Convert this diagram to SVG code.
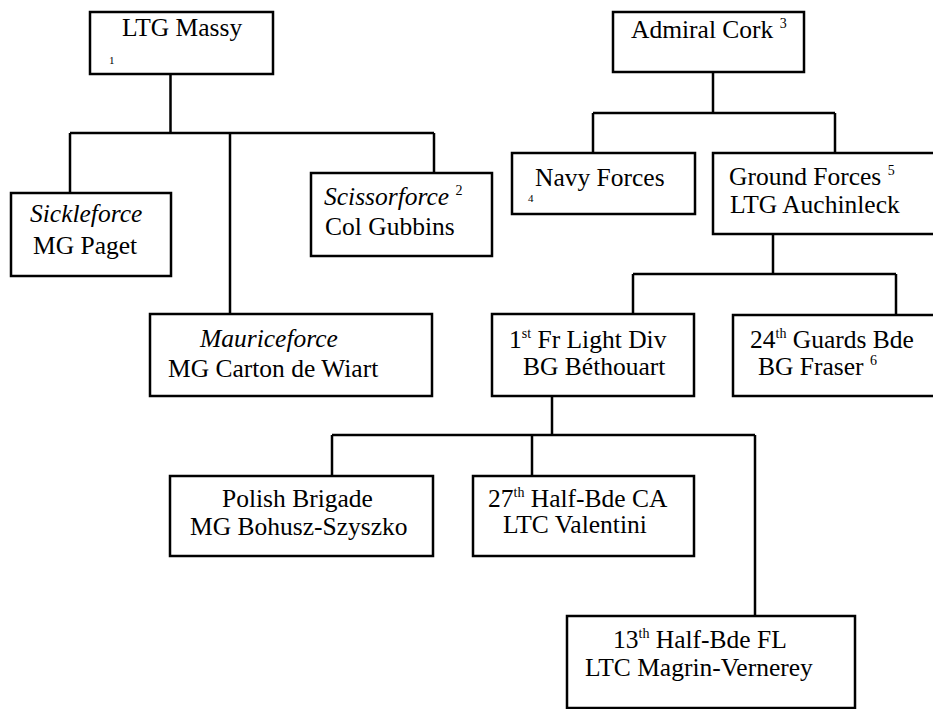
<svg xmlns="http://www.w3.org/2000/svg" width="933" height="709" viewBox="0 0 933 709">
<style>
.box{fill:#fff;stroke:#000;stroke-width:2.5}
.ln{fill:none;stroke:#000;stroke-width:2.5}
text{font-family:"Liberation Serif","Times New Roman",serif;font-size:25.5px;fill:#000}
.it{font-style:italic}
.sup{font-size:14px}
.fn{font-size:11px}
</style>
<rect width="933" height="709" fill="#fff"/>
<g id="connectors">
<path class="ln" d="M170.5,74V133M70,133H434M70,133V193M230,133V314M434,133V173"/>
<path class="ln" d="M713,72V113M593,113H835M593,113V153M835,113V153"/>
<path class="ln" d="M773,234V274M633,274H896M633,274V314M896,274V315"/>
<path class="ln" d="M552,396V435M332,435H755M332,435V476M532,435V476M755,435V616"/>
</g>
<g id="massy">
<rect class="box" x="90" y="12" width="183" height="62"/>
<text x="122" y="36">LTG Massy</text>
<text class="fn" x="109" y="64">1</text>
</g>
<g id="cork">
<rect class="box" x="613" y="12" width="191" height="60"/>
<text x="631" y="38">Admiral Cork <tspan class="sup" dy="-10">3</tspan></text>
</g>
<g id="sickleforce">
<rect class="box" x="11" y="193" width="160" height="83"/>
<text class="it" x="30" y="222">Sickleforce</text>
<text x="33" y="254">MG Paget</text>
</g>
<g id="scissorforce">
<rect class="box" x="311" y="173" width="181" height="83"/>
<text x="324" y="205"><tspan class="it">Scissorforce</tspan> <tspan class="sup" dy="-10">2</tspan></text>
<text x="325" y="235">Col Gubbins</text>
</g>
<g id="mauriceforce">
<rect class="box" x="150" y="314" width="282" height="82"/>
<text class="it" x="200" y="347">Mauriceforce</text>
<text x="168" y="377">MG Carton de Wiart</text>
</g>
<g id="navy">
<rect class="box" x="512" y="153" width="183" height="61"/>
<text x="535" y="186">Navy Forces</text>
<text class="fn" x="528" y="202">4</text>
</g>
<g id="ground">
<rect class="box" x="713" y="153" width="230" height="81"/>
<text x="729" y="185">Ground Forces <tspan class="sup" dy="-10">5</tspan></text>
<text x="730" y="213">LTG Auchinleck</text>
</g>
<g id="frlight">
<rect class="box" x="492" y="314" width="202" height="82"/>
<text x="509" y="348">1<tspan class="sup" dy="-10">st</tspan><tspan dy="10"> Fr Light Div</tspan></text>
<text x="523" y="375">BG Béthouart</text>
</g>
<g id="guards">
<rect class="box" x="733" y="315" width="210" height="81"/>
<text x="750" y="348">24<tspan class="sup" dy="-10">th</tspan><tspan dy="10"> Guards Bde</tspan></text>
<text x="758" y="375">BG Fraser <tspan class="sup" dy="-10">6</tspan></text>
</g>
<g id="polish">
<rect class="box" x="170" y="476" width="263" height="80"/>
<text x="222" y="507">Polish Brigade</text>
<text x="190" y="535">MG Bohusz-Szyszko</text>
</g>
<g id="half27">
<rect class="box" x="473" y="476" width="221" height="80"/>
<text x="488" y="507">27<tspan class="sup" dy="-10">th</tspan><tspan dy="10"> Half-Bde CA</tspan></text>
<text x="503" y="533">LTC Valentini</text>
</g>
<g id="half13">
<rect class="box" x="567" y="616" width="288" height="92"/>
<text x="613" y="648">13<tspan class="sup" dy="-10">th</tspan><tspan dy="10"> Half-Bde FL</tspan></text>
<text x="585" y="676">LTC Magrin-Vernerey</text>
</g>
</svg>
